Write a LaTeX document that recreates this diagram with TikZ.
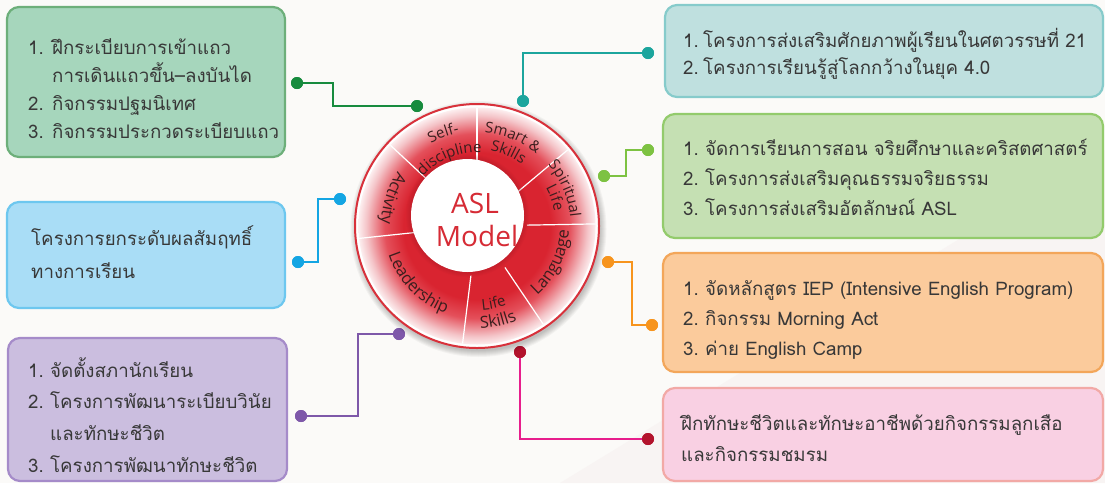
\documentclass[tikz,border=0pt]{standalone}
\usepackage{fontspec}
\setmainfont{Open Sans}
\newfontfamily\thaifont[Script=Thai]{Loma}
\newfontfamily\ringfont{Open Sans}
\usetikzlibrary{calc,decorations.text}
\definecolor{bgc}{HTML}{FBFAF8}
\definecolor{bgd}{HTML}{F8F4F3}
\definecolor{txtc}{HTML}{383838}
\definecolor{fA}{HTML}{A6D6BC}\definecolor{dA}{HTML}{6DAF7A}
\definecolor{fB}{HTML}{BFE0DF}\definecolor{dB}{HTML}{86CBCB}
\definecolor{fC}{HTML}{C5E0B3}\definecolor{dC}{HTML}{93CB6C}
\definecolor{fD}{HTML}{FBCB9C}\definecolor{dD}{HTML}{F3A65A}
\definecolor{fE}{HTML}{F9D0E3}\definecolor{dE}{HTML}{F2A9A6}
\definecolor{fF}{HTML}{A9DDF6}\definecolor{dF}{HTML}{6DC7EF}
\definecolor{fG}{HTML}{CBBEDF}\definecolor{dG}{HTML}{A58BC9}
\definecolor{cA}{HTML}{178B3E}
\definecolor{cB}{HTML}{1CA59D}
\definecolor{cC}{HTML}{7DC242}
\definecolor{cD}{HTML}{F7941D}
\definecolor{cE}{HTML}{E71D8C}
\definecolor{cEd}{HTML}{B3132C}
\definecolor{cF}{HTML}{14A5E3}
\definecolor{cG}{HTML}{7E58A9}
\definecolor{ringred}{HTML}{D92430}
\definecolor{ringmid}{HTML}{E4505B}
\definecolor{ringlight}{HTML}{F4C4C8}
\definecolor{ringedge}{HTML}{FCEDEE}
\definecolor{ringline}{HTML}{D8313B}
\definecolor{ringtxt}{HTML}{3B1E1E}
\definecolor{aslred}{HTML}{D62B35}
\pgfdeclareradialshading{ringshade}{\pgfpoint{0bp}{0bp}}{%
  color(0bp)=(ringred); color(15.5bp)=(ringred);
  color(19.5bp)=(ringmid); color(23.3bp)=(ringlight); color(25bp)=(ringedge); color(50bp)=(ringedge)}
\newcommand\itm[2]{\makebox[#1][l]{#2}}
\newcommand\boxtext[2]{\fontsize{18.7}{#1}\selectfont\begin{tabular}[t]{@{}l@{}}#2\end{tabular}}
\newcommand\cwlabel[4]{%
  \path[decorate,decoration={text along path,text align=center,
    text={|\ringfont\fontsize{#3}{#3}\selectfont\color{ringtxt}|#4}}]
    ($(C)+(#1+45:#2)$) arc[start angle=#1+45,end angle=#1-45,radius=#2];}
\newcommand\ccwlabel[4]{%
  \path[decorate,decoration={text along path,text align=center,
    text={|\ringfont\fontsize{#3}{#3}\selectfont\color{ringtxt}|#4}}]
    ($(C)+(#1-45:#2)$) arc[start angle=#1-45,end angle=#1+45,radius=#2];}
\tikzset{
  box/.style={line width=2.2pt,rounded corners=12pt,inner sep=0pt},
  txt/.style={inner sep=0pt,text=txtc,font=\thaifont,anchor=base west},
  dotn/.style={circle,fill=#1,inner sep=0pt,minimum size=12pt},
  conn/.style={draw=#1,line width=2.4pt},
  sep/.style={draw=white,line width=1.2pt},
}
\begin{document}
\begin{tikzpicture}[x=1pt,y=1pt]
\useasboundingbox (0,0) rectangle (1105,-483);
\fill[bgc] (0,0) rectangle (1105,-483);
\fill[bgd] (560,-483) -- (1105,-150) -- (1105,-483) -- cycle;

% boxes
\node[box,draw=dA,fill=fA,minimum width=278pt,minimum height=150pt] (b1) at (146,-82) {};
\node[box,draw=dB,fill=fB,minimum width=438pt,minimum height=92pt] (b2) at (884,-51) {};
\node[box,draw=dC,fill=fC,minimum width=440pt,minimum height=124pt] (b3) at (883,-176) {};
\node[box,draw=dD,fill=fD,minimum width=440pt,minimum height=119pt] (b4) at (883,-312.5) {};
\node[box,draw=dE,fill=fE,minimum width=440pt,minimum height=93pt] (b5) at (883,-434.5) {};
\node[box,draw=dF,fill=fF,minimum width=278pt,minimum height=106pt] (b6) at (146,-255) {};
\node[box,draw=dG,fill=fG,minimum width=279pt,minimum height=143pt] (b7) at (147.5,-409.5) {};

% box texts
\node[txt] (t1) at (28,-54) {\boxtext{28}{\itm{24pt}{1.}ฝึกระเบียบการเข้าแถว\\\itm{24pt}{}การเดินแถวขึ้น–ลงบันได\\\itm{24pt}{2.}กิจกรรมปฐมนิเทศ\\\itm{24pt}{3.}กิจกรรมประกวดระเบียบแถว}};
\node[txt] (t2) at (683,-47) {\boxtext{27}{\itm{20pt}{1.}โครงการส่งเสริมศักยภาพผู้เรียนในศตวรรษที่ 21\\\itm{20pt}{2.}โครงการเรียนรู้สู่โลกกว้างในยุค 4.0}};
\node[txt] (t3) at (683,-155) {\boxtext{30}{\itm{22pt}{1.}จัดการเรียนการสอน จริยศึกษาและคริสตศาสตร์\\\itm{22pt}{2.}โครงการส่งเสริมคุณธรรมจริยธรรม\\\itm{22pt}{3.}โครงการส่งเสริมอัตลักษณ์ ASL}};
\node[txt] (t4) at (683,-295) {\boxtext{30}{\itm{22pt}{1.}จัดหลักสูตร IEP (Intensive English Program)\\\itm{22pt}{2.}กิจกรรม Morning Act\\\itm{22pt}{3.}ค่าย English Camp}};
\node[txt] (t5) at (681,-430) {\boxtext{31}{ฝึกทักษะชีวิตและทักษะอาชีพด้วยกิจกรรมลูกเสือ\\และกิจกรรมชมรม}};
\node[txt] (t6) at (31,-245) {\boxtext{33}{โครงการยกระดับผลสัมฤทธิ์\\ทางการเรียน}};
\node[txt] (t7) at (28,-377) {\boxtext{31.7}{\itm{22pt}{1.}จัดตั้งสภานักเรียน\\\itm{22pt}{2.}โครงการพัฒนาระเบียบวินัย\\\itm{22pt}{}และทักษะชีวิต\\\itm{22pt}{3.}โครงการพัฒนาทักษะชีวิต}};

% connector dots
\node[dotn=cA] (gA) at (417,-106) {};
\node[dotn=cA] (gB) at (297,-83) {};
\node[dotn=cB] (tA) at (523,-101) {};
\node[dotn=cB] (tB) at (648,-53) {};
\node[dotn=cC] (lA) at (604,-176) {};
\node[dotn=cC] (lB) at (648,-150) {};
\node[dotn=cD] (oA) at (608,-262) {};
\node[dotn=cD] (oB) at (652,-325) {};
\node[dotn=cEd] (mA) at (520,-352) {};
\node[dotn=cEd] (mB) at (648,-439) {};
\node[dotn=cF] (bA) at (340,-199) {};
\node[dotn=cF] (bB) at (298,-262) {};
\node[dotn=cG] (pA) at (399,-334) {};
\node[dotn=cG] (pB) at (301,-416) {};

% connectors
\draw[conn=cA] (gA.center) -- ++(-84,0) |- (gB.center);
\draw[conn=cB] (tA.center) |- (tB.center);
\draw[conn=cC] (lA.center) -- ++(22,0) |- (lB.center);
\draw[conn=cD] (oA.center) -- ++(24,0) |- (oB.center);
\draw[conn=cE] (mA.center) |- (mB.center);
\draw[conn=cF] (bB.center) -- ++(20,0) |- (bA.center);
\draw[conn=cG] (pB.center) -- ++(57,0) |- (pA.center);
\foreach \n/\c in {gA/cA,gB/cA,tA/cB,tB/cB,lA/cC,lB/cC,oA/cD,oB/cD,mA/cEd,mB/cEd,bA/cF,bB/cF,pA/cG,pB/cG}
  \fill[\c] (\n) circle (6);

% the wheel
\coordinate (C) at (477,-226);
\coordinate (I) at (467.5,-215.5);
\foreach \k in {1,...,7}
  \fill[black,opacity=0.035] ($(C)+(1.5,-3)$) circle (121+\k);
\filldraw[fill=white,draw=ringline,line width=2pt] (C) circle (122);
\shade[shading=ringshade] (C) circle (118.5);
\foreach \a in {90,40,1,-56,-97,186,137}
  \draw[sep] ($(C)+(\a:50)$) -- ($(C)+(\a:118.5)$);
\foreach \k in {1,...,5}
  \fill[ringred!70!black,opacity=0.06] (I) circle (56.5+\k);
\fill[white] (I) circle (56.5);

\node[font=\ringfont\fontsize{28}{28}\selectfont,text=aslred,inner sep=0pt] (asl) at (475,-203) {ASL};
\node[font=\ringfont\fontsize{28}{28}\selectfont,text=aslred,inner sep=0pt] (model) at (477,-236) {Model};

\cwlabel{110}{94.6}{15}{Self-}
\cwlabel{112}{73.6}{15}{discipline}
\cwlabel{68}{93.6}{15}{Smart {\&}}
\cwlabel{67}{76.6}{15}{Skills}
\cwlabel{23}{93.6}{15}{Spiritual}
\cwlabel{20}{78.6}{15}{Life}
\ccwlabel{-26}{92}{16.5}{Language}
\ccwlabel{-78}{84.4}{15}{Life}
\ccwlabel{-77.5}{102.4}{16.5}{Skills}
\ccwlabel{-136}{93}{16.5}{Leadership}
\ccwlabel{162}{96}{16.5}{Activity}
\end{tikzpicture}
\end{document}
